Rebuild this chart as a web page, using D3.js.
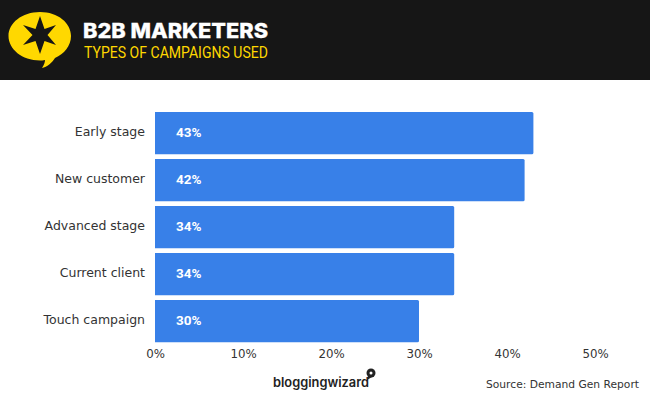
<!DOCTYPE html>
<html>
<head>
<meta charset="utf-8">
<script src="https://cdn.jsdelivr.net/npm/d3@7/dist/d3.min.js"></script>
<style>
html,body{margin:0;padding:0;background:#fff}
svg{display:block}
text{font-family:"DejaVu Sans",sans-serif}
</style>
</head>
<body>
<svg id="c" width="650" height="400"></svg>
<script>
const categories = ["Early stage","New customer","Advanced stage","Current client","Touch campaign"];
const values = [43,42,34,34,30];
const tickValues = [0,10,20,30,40,50];
const title = "B2B MARKETERS";
const subtitle = "TYPES OF CAMPAIGNS USED";
const source = "Source: Demand Gen Report";
const brand = "bloggingwizard";

const svg = d3.select("#c");
const x = d3.scaleLinear().domain([0,50]).range([155,595]);
const y = d3.scaleBand().domain(categories).range([109.6,344.6]).paddingInner(0.1).paddingOuter(0.05);

// header
svg.append("rect").attr("width",650).attr("height",80).attr("fill","#161616");
svg.append("path").attr("fill","#ffd800")
  .attr("d","M40 12 C58 12 71 23 71 36 C71 46 64 54 55 58 C52 63 47 67 42 68 C44 65 45 62 45 60 C43 60.400 41.500 60.500 40 60.500 C22 60.500 8.500 49 8.500 36 C8.500 23 22 12 40 12 Z");
svg.append("path").attr("fill","#161616")
  .attr("d","M40 16 L44.500 29 L56 25 L47.500 35 L56 45 L44.500 41 L40 54 L35.500 41 L23 45 L32.500 35 L23 25 L35.500 29 Z");
svg.append("text").attr("x",83).attr("y",38).attr("fill","#fff").attr("stroke","#fff").attr("stroke-width",0.3)
  .style("font-family","Inter").attr("font-size",20.5).attr("font-weight",800).attr("textLength",185).attr("lengthAdjust","spacingAndGlyphs").text(title);
svg.append("text").attr("x",84).attr("y",58).attr("fill","#ffd800")
  .style("font-family","Roboto").attr("font-size",17).attr("textLength",184).attr("lengthAdjust","spacingAndGlyphs").text(subtitle);

// bars
svg.selectAll("path.bar").data(values).join("path").attr("class","bar")
  .attr("d",(d,i)=>{
    const t=y(categories[i]), b=t+y.bandwidth(), r=x(d), l=x(0), c=1.5;
    return `M${l} ${t}H${r-c}Q${r} ${t} ${r} ${t+c}V${b-c}Q${r} ${b} ${r-c} ${b}H${l}Z`;
  }).attr("fill","#3880e8");
svg.selectAll("text.val").data(values).join("text").attr("class","val")
  .attr("x",x(0)+21).attr("y",(d,i)=>y(categories[i])+y.bandwidth()/2+4)
  .attr("fill","#fff").attr("font-size",13.5).attr("font-weight",700).style("font-family","Roboto").text(d=>d+"%");

// category labels
const yAxis = d3.axisLeft(y).tickSize(0).tickPadding(10);
const gy = svg.append("g").attr("transform","translate(155,-0.8)").call(yAxis);
gy.select(".domain").remove();
gy.selectAll("text").attr("fill","#333").attr("font-size",12.5).style("font-family","DejaVu Sans");

// value axis
const xAxis = d3.axisBottom(x).tickValues(tickValues).tickFormat(d=>d+"%").tickSize(0).tickPadding(7);
const gx = svg.append("g").attr("transform","translate(0,343)").call(xAxis);
gx.select(".domain").remove();
gx.selectAll("text").attr("fill","#333").attr("font-size",11.8).style("font-family","DejaVu Sans");

// brand + source
svg.append("text").attr("x",273).attr("y",387).attr("fill","#222").style("font-family","Inter").attr("font-size",13).attr("font-weight",600)
  .attr("textLength",96).attr("lengthAdjust","spacingAndGlyphs").text(brand);
svg.append("circle").attr("cx",371).attr("cy",373).attr("r",4.5).attr("fill","#222");
svg.append("path").attr("fill","#222").attr("d","M368 376 L367 380 L372 377 Z");
svg.append("circle").attr("cx",371).attr("cy",373).attr("r",1.5).attr("fill","#fff");
svg.append("text").attr("x",486).attr("y",388).attr("fill","#333").attr("font-size",11.2)
  .attr("textLength",153).attr("lengthAdjust","spacingAndGlyphs").text(source);
</script>
</body>
</html>
